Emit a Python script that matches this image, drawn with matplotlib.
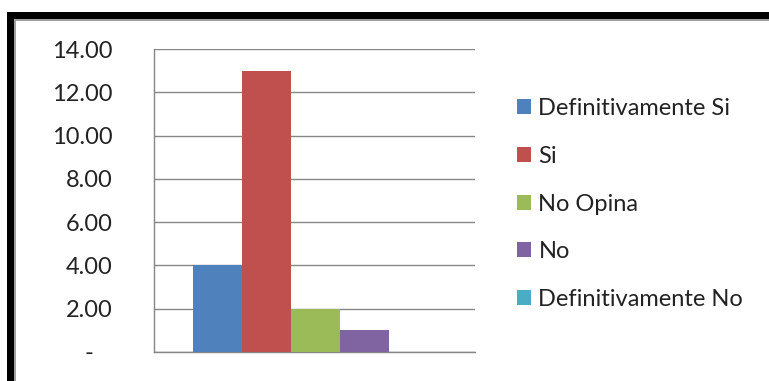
import matplotlib
matplotlib.use("Agg")
import matplotlib.pyplot as plt
from matplotlib.patches import Rectangle, Patch

# data
categorias = ["Definitivamente Si", "Si", "No Opina", "No", "Definitivamente No"]
valores = [4, 13, 2, 1, 0]
colores = ["#4F81BD", "#C0504D", "#9BBB59", "#8064A2", "#4BACC6"]
yticks = [0, 2, 4, 6, 8, 10, 12, 14]

plt.rcParams['font.family'] = ['Lato', 'DejaVu Sans']

fig = plt.figure(figsize=(7.69, 3.81), dpi=100)

# marco negro con borde gris interior
W, H = 769.0, 381.0
fig.patches.append(Rectangle((7 / W, -0.1), 1.2, (381 - 12) / H + 0.1,
                             transform=fig.transFigure, facecolor="black",
                             edgecolor="none", zorder=-3))
fig.patches.append(Rectangle((14 / W, -0.1), 1.2, (381 - 19) / H + 0.1,
                             transform=fig.transFigure, facecolor="#a0a0a0",
                             edgecolor="none", zorder=-2))
fig.patches.append(Rectangle((16 / W, -0.1), 1.2, (381 - 21) / H + 0.1,
                             transform=fig.transFigure, facecolor="white",
                             edgecolor="none", zorder=-1))

ax = fig.add_axes([154 / W, 1 - 352 / H, (475 - 154) / W, (352 - 49) / H])
ax.set_facecolor("none")

x = list(range(len(valores)))
ax.bar(x, valores, width=1.0, color=colores, edgecolor="none", zorder=3)

ax.set_xlim(-1.29, 5.26)
ax.set_ylim(0, 14)
ax.set_yticks(yticks)
ax.set_yticklabels(["-   " if v == 0 else "%.2f" % v for v in yticks])
ax.set_xticks([])
ax.tick_params(axis="y", length=0, pad=30, labelsize=17, labelcolor="#222222")
ax.yaxis.grid(True, color="#868686", linewidth=1.0, zorder=0)
for s in ["top", "right"]:
    ax.spines[s].set_visible(False)
for s in ["left", "bottom"]:
    ax.spines[s].set_color("#868686")
    ax.spines[s].set_linewidth(1.0)

handles = [Patch(facecolor=c, edgecolor="none") for c in colores]
fig.legend(handles, categorias, loc="upper left",
           bbox_to_anchor=(496 / W, 1 - 77 / H), frameon=False,
           fontsize=17, handlelength=0.6, handleheight=0.6,
           handletextpad=0.3, labelspacing=1.13, labelcolor="#222222")

fig.savefig("out.png", dpi=100)
